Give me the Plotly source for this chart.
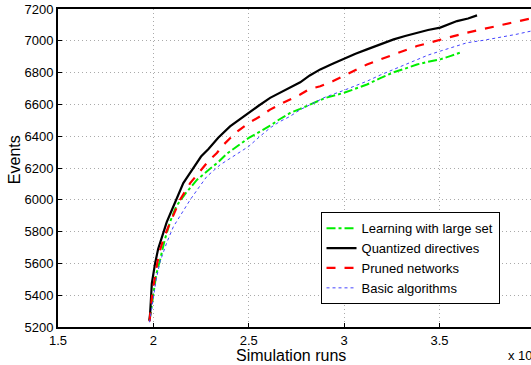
import plotly.graph_objects as go

# ---- data (x in units of 10^4 simulation runs) ----
learn_x = [1.98, 1.99, 2.0, 2.015, 2.035, 2.06, 2.088, 2.12, 2.17, 2.228, 2.297, 2.341, 2.385, 2.44, 2.5, 2.56,
           2.612, 2.66, 2.717, 2.77, 2.82, 2.9, 3.0, 3.06, 3.12, 3.19, 3.26, 3.32, 3.382, 3.44, 3.504, 3.56, 3.617]
learn_y = [5240, 5330, 5430, 5530, 5621, 5750, 5862, 5960, 6042, 6125, 6195, 6238, 6290, 6340, 6389, 6430,
           6466, 6505, 6546, 6572, 6599, 6640, 6673, 6700, 6725, 6765, 6802, 6825, 6851, 6868, 6883, 6905, 6929]

quant_x = [1.979, 1.983, 1.992, 2.0, 2.009, 2.025, 2.044, 2.07, 2.097, 2.125, 2.157, 2.19, 2.219, 2.25, 2.289,
           2.34, 2.402, 2.45, 2.5, 2.55, 2.612, 2.66, 2.717, 2.77, 2.82, 2.875, 2.94, 2.997, 3.06, 3.12, 3.19,
           3.26, 3.32, 3.382, 3.44, 3.504, 3.55, 3.592, 3.65, 3.697]
quant_y = [5240, 5284, 5474, 5537, 5600, 5690, 5768, 5860, 5936, 6020, 6105, 6165, 6220, 6272, 6320,
           6390, 6462, 6505, 6546, 6590, 6641, 6672, 6704, 6739, 6782, 6820, 6855, 6887, 6918, 6946, 6980,
           7009, 7030, 7051, 7068, 7083, 7105, 7124, 7140, 7160]

pruned_x = [1.98, 1.986, 1.995, 2.009, 2.02, 2.035, 2.055, 2.079, 2.11, 2.14, 2.193, 2.245, 2.29, 2.333, 2.367,
            2.43, 2.5, 2.56, 2.612, 2.66, 2.717, 2.77, 2.82, 2.875, 2.94, 2.997, 3.06, 3.12, 3.19, 3.26, 3.32,
            3.382, 3.44, 3.504, 3.57, 3.645, 3.73, 3.819, 3.9, 3.98]
pruned_y = [5235, 5305, 5420, 5515, 5600, 5684, 5760, 5831, 5920, 6000, 6105, 6180, 6245, 6294, 6345,
            6420, 6483, 6525, 6567, 6598, 6630, 6662, 6698, 6714, 6745, 6777, 6815, 6851, 6883, 6914, 6940,
            6967, 6985, 7004, 7028, 7051, 7073, 7097, 7118, 7141]

basic_x = [1.98, 1.99, 2.0, 2.015, 2.035, 2.07, 2.105, 2.15, 2.193, 2.24, 2.28, 2.35, 2.437, 2.5, 2.56, 2.612,
           2.66, 2.717, 2.77, 2.82, 2.9, 3.0, 3.06, 3.12, 3.19, 3.26, 3.32, 3.382, 3.44, 3.504, 3.57, 3.645,
           3.73, 3.819, 3.9, 3.98]
basic_y = [5230, 5310, 5400, 5500, 5610, 5730, 5831, 5920, 6000, 6080, 6146, 6220, 6290, 6336, 6400, 6452,
           6490, 6525, 6567, 6599, 6645, 6689, 6718, 6746, 6785, 6820, 6850, 6883, 6910, 6935, 6962, 6988,
           7003, 7020, 7040, 7061]

x_ticks = [1.5, 2, 2.5, 3, 3.5]
x_tick_labels = ["1.5", "2", "2.5", "3", "3.5"]
y_ticks = [5200, 5400, 5600, 5800, 6000, 6200, 6400, 6600, 6800, 7000, 7200]

FONT = "Liberation Sans, Arial, Helvetica, sans-serif"
GRID = dict(showgrid=True, gridcolor="#aaaaaa", griddash="1px,3px", gridwidth=1)

fig = go.Figure()
fig.add_trace(go.Scatter(x=learn_x, y=learn_y, mode="lines", name="Learning with large set",
                         legendgroup="a", line=dict(color="#00ee00", width=2, dash="dashdot")))
fig.add_trace(go.Scatter(x=quant_x, y=quant_y, mode="lines", name="Quantized directives",
                         legendgroup="b", line=dict(color="#000000", width=2.2)))
fig.add_trace(go.Scatter(x=pruned_x, y=pruned_y, mode="lines", name="Pruned networks",
                         legendgroup="c", line=dict(color="#ff0000", width=2.2, dash="dash")))
fig.add_trace(go.Scatter(x=basic_x, y=basic_y, mode="lines", name="Basic algorithms",
                         legendgroup="d", line=dict(color="#4444ff", width=1, dash="dot")))

fig.update_layout(
    width=531, height=365,
    margin=dict(l=58, r=0, t=9, b=38),
    paper_bgcolor="white", plot_bgcolor="white",
    font=dict(family=FONT, size=13, color="black"),
    showlegend=True,
    legend=dict(x=0.555, y=0.361, xanchor="left", yanchor="top",
                bgcolor="white", bordercolor="black", borderwidth=1,
                font=dict(size=13), tracegroupgap=0, itemwidth=30),
    xaxis=dict(range=[1.5, 3.98], tickvals=x_ticks, ticktext=x_tick_labels,
               showline=True, linecolor="black", linewidth=2, mirror=True,
               ticks="inside", ticklen=4, tickcolor="black",
               zeroline=False, tickfont=dict(size=13), **GRID),
    yaxis=dict(range=[5200, 7200], tickvals=y_ticks,
               showline=True, linecolor="black", linewidth=2,
               ticks="inside", ticklen=4, tickcolor="black",
               zeroline=False, tickfont=dict(size=13), **GRID),
    annotations=[
        dict(text="Simulation runs", xref="paper", yref="paper", x=(291 - 58) / 473, y=(326.7 - 355) / 317.7,
             xanchor="center", yanchor="middle", showarrow=False, font=dict(size=16)),
        dict(text="Events", xref="paper", yref="paper", x=(14 - 58) / 473, y=(326.7 - 160) / 317.7,
             xanchor="center", yanchor="middle", showarrow=False, textangle=-90, font=dict(size=16)),
        dict(text="x 10<sup>4</sup>", xref="paper", yref="paper", x=0.947, y=-0.089,
             xanchor="left", yanchor="middle", showarrow=False, font=dict(size=13)),
    ],
)

fig.write_html("out.html")
